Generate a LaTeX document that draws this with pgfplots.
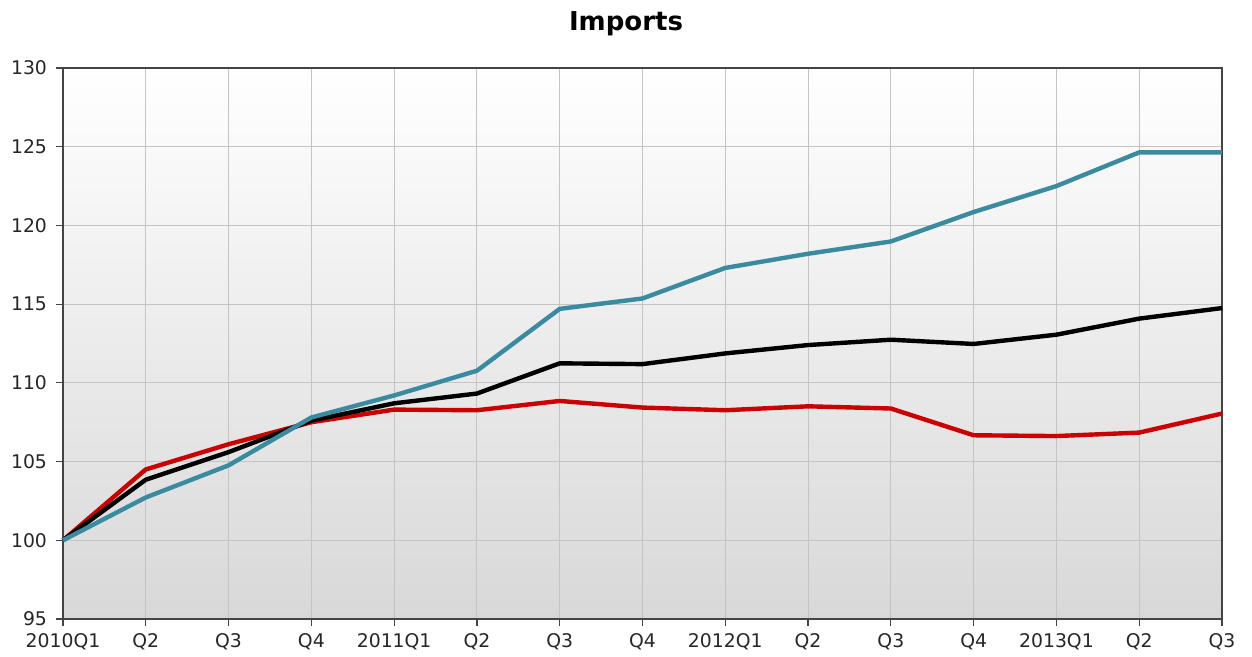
\documentclass[border=0pt]{standalone}
\usepackage{fontspec}
\setmainfont{DejaVu Sans}
\usepackage{pgfplots}
\pgfplotsset{compat=1.18}

\definecolor{teal1}{HTML}{3A8BA0}
\definecolor{red1}{HTML}{CC0000}
\definecolor{gridgray}{HTML}{C4C4C4}
\definecolor{axisgray}{HTML}{444444}
\definecolor{bgbottom}{HTML}{D8D8D8}
\definecolor{bgmid}{HTML}{E1E1E1}

\begin{document}
\begin{tikzpicture}
\begin{axis}[
    at={(0,0)}, anchor=south west,
    scale only axis,
    width=579.5pt, height=275.5pt,
    xmin=0, xmax=14,
    ymin=95, ymax=130,
    xtick={0,...,14},
    xticklabels={2010Q1,Q2,Q3,Q4,2011Q1,Q2,Q3,Q4,2012Q1,Q2,Q3,Q4,2013Q1,Q2,Q3},
    ytick={95,100,...,130},
    tick align=outside,
    xtick pos=bottom, ytick pos=left,
    major tick length=3.5pt,
    tick style={axisgray, line width=0.6pt},
    axis line style={axisgray, line width=0.7pt},
    grid=major,
    major grid style={gridgray, line width=0.55pt},
    ticklabel style={font=\fontsize{9.4}{11}\selectfont, text=black!85},
    yticklabel style={xshift=-1pt},
    /pgf/number format/assume math mode=true,
    axis background/.style={top color=white, middle color=bgmid, bottom color=bgbottom},
    every axis plot/.append style={line width=2.2pt, mark=none, line join=round},
    clip=false,
]
\addplot[red1] coordinates {
(0,100) (1,104.5) (2,106.1) (3,107.5) (4,108.3) (5,108.26) (6,108.85)
(7,108.43) (8,108.26) (9,108.51) (10,108.37) (11,106.67) (12,106.62)
(13,106.84) (14,108.05)};
\addplot[black] coordinates {
(0,100) (1,103.85) (2,105.6) (3,107.6) (4,108.7) (5,109.32) (6,111.24)
(7,111.19) (8,111.87) (9,112.4) (10,112.74) (11,112.47) (12,113.06)
(13,114.08) (14,114.75)};
\addplot[teal1] coordinates {
(0,100) (1,102.72) (2,104.76) (3,107.8) (4,109.2) (5,110.77) (6,114.7)
(7,115.36) (8,117.3) (9,118.2) (10,118.98) (11,120.85) (12,122.5)
(13,124.64) (14,124.64)};
\end{axis}
\node[anchor=base, font=\fontsize{13}{15}\selectfont\bfseries] at (281.5pt,294pt) {Imports};
\pgfresetboundingbox
\path (-31.5pt,-19pt) rectangle (594.5pt,309.5pt);
\end{tikzpicture}
\end{document}
